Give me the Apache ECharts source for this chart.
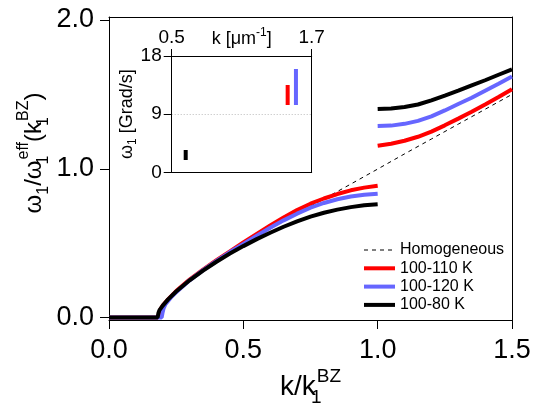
<!DOCTYPE html>
<html lang="en" style="height: 100%">
<head>
  <meta charset="utf-8">
</head>
<body style="height: 100%; margin: 0">
  <div id="container" style="width: 535px; height: 407px"></div>

  <script type="text/javascript" src="https://fastly.jsdelivr.net/npm/echarts@6.0.0/dist/echarts.min.js"></script>

  <script type="text/javascript">
    var FONT = 'Liberation Sans, Arial, sans-serif';

    // main plot: k/k1BZ vs omega1/omega1eff, two segments each (gap at k = 1)
    var homogeneous = [
      [0, 0], [0.18, 0], [0.19, 0.04], [0.2, 0.07], [0.22, 0.115], [0.25, 0.17],
      [0.3, 0.245], [0.35, 0.31], [0.4, 0.37], [0.45, 0.43], [0.5, 0.49],
      [0.6, 0.595], [0.7, 0.7], [0.8, 0.797], [0.9, 0.897], [1.0, 0.998],
      [1.1, 1.1], [1.2, 1.2], [1.3, 1.3], [1.4, 1.4], [1.5, 1.5]
    ];
    var red1 = [
      [0, 0], [0.183, 0], [0.186, 0.03], [0.19, 0.05], [0.2, 0.08], [0.22, 0.122], [0.25, 0.178],
      [0.3, 0.255], [0.35, 0.322], [0.4, 0.385], [0.45, 0.445], [0.5, 0.505],
      [0.55, 0.562], [0.6, 0.618], [0.65, 0.672], [0.7, 0.722], [0.75, 0.765],
      [0.8, 0.8], [0.85, 0.83], [0.9, 0.855], [0.95, 0.873], [1.0, 0.886]
    ];
    var red2 = [
      [1.0, 1.155], [1.05, 1.168], [1.1, 1.188], [1.15, 1.215], [1.2, 1.25],
      [1.25, 1.292], [1.3, 1.337], [1.35, 1.383], [1.4, 1.432], [1.45, 1.482], [1.5, 1.535]
    ];
    var blue1 = [
      [0, 0], [0.196, 0], [0.199, 0.03], [0.203, 0.06], [0.21, 0.09], [0.23, 0.133], [0.25, 0.17],
      [0.3, 0.25], [0.35, 0.318], [0.4, 0.38], [0.45, 0.44], [0.5, 0.495],
      [0.55, 0.55], [0.6, 0.603], [0.65, 0.653], [0.7, 0.698], [0.75, 0.738],
      [0.8, 0.77], [0.85, 0.795], [0.9, 0.813], [0.95, 0.825], [1.0, 0.832]
    ];
    var blue2 = [
      [1.0, 1.287], [1.05, 1.29], [1.1, 1.302], [1.15, 1.322], [1.2, 1.352],
      [1.25, 1.392], [1.3, 1.435], [1.35, 1.477], [1.4, 1.525], [1.45, 1.572], [1.5, 1.62]
    ];
    var black1 = [
      [0, 0], [0.181, 0], [0.184, 0.03], [0.188, 0.05], [0.2, 0.08], [0.22, 0.122], [0.25, 0.175],
      [0.3, 0.25], [0.35, 0.315], [0.4, 0.375], [0.45, 0.43], [0.5, 0.48],
      [0.55, 0.527], [0.6, 0.57], [0.65, 0.61], [0.7, 0.646], [0.75, 0.678],
      [0.8, 0.704], [0.85, 0.725], [0.9, 0.742], [0.95, 0.755], [1.0, 0.762]
    ];
    var black2 = [
      [1.0, 1.401], [1.05, 1.405], [1.1, 1.415], [1.15, 1.432], [1.2, 1.46],
      [1.25, 1.492], [1.3, 1.525], [1.35, 1.56], [1.4, 1.595], [1.45, 1.632], [1.5, 1.668]
    ];

    // inset: omega1 range [Grad/s] at k [um^-1]
    var insetRed = [[1.494, 10.4], [1.494, 13.5]];
    var insetBlue = [[1.565, 10.4], [1.565, 16.0]];
    var insetBlack = [[0.62, 1.9], [0.62, 3.45]];

    var mainTicks = [0, 1, 2];
    var insetXTicks = [0.5, 1.7];

    var names = ['Homogeneous', '100-110 K', '100-120 K', '100-80 K'];
    var colors = ['#000', '#ff0000', '#6666ff', '#000'];

    function joinSeg(a, b) {
      return a.concat([[1.0, '-']], b);
    }

    var dom = document.getElementById('container');
    var myChart = echarts.init(dom, null, { renderer: 'canvas' });

    var subSup = {
      s0: { fontSize: 16, lineHeight: 17, verticalAlign: 'bottom', width: 1, fontFamily: FONT, color: '#000' },
      s: { fontSize: 16, lineHeight: 17, verticalAlign: 'bottom', fontFamily: FONT, color: '#000' },
      p: { fontSize: 16, lineHeight: 17, verticalAlign: 'top', fontFamily: FONT, color: '#000' }
    };

    var lineBase = { type: 'line', symbol: 'none', smooth: false, silent: true, animation: false };

    var option = {
      backgroundColor: '#fff',
      animation: false,
      textStyle: { fontFamily: FONT },
      grid: [
        { left: 109, right: 23, top: 17, bottom: 87, outerBoundsMode: 'none' },
        { left: 171.7, right: 223.3, top: 56, bottom: 234.7, outerBoundsMode: 'none' }
      ],
      legend: {
        data: names,
        orient: 'vertical',
        left: 362,
        top: 242,
        padding: 0,
        itemWidth: 31,
        itemHeight: 14,
        itemGap: 2.3,
        lineStyle: { width: 'inherit' },
        itemStyle: { opacity: 0 },
        textStyle: { fontSize: 16, lineHeight: 16, color: '#000', fontFamily: FONT }
      },
      xAxis: [
        {
          gridIndex: 0, type: 'value', min: 0, max: 1.5, interval: 0.5,
          name: 'k/k{s0|1}{p|BZ}', nameLocation: 'middle', nameGap: 47, nameMoveOverlap: false,
          nameTextStyle: {
            rich: {
              s0: { fontSize: 19, lineHeight: 20, verticalAlign: 'bottom', width: 1, fontFamily: FONT, color: '#000' },
              p: { fontSize: 19, lineHeight: 20, verticalAlign: 'top', fontFamily: FONT, color: '#000' }
            },
            fontSize: 28, lineHeight: 40, color: '#000'
          },
          axisLine: { onZero: false, lineStyle: { color: '#000', width: 1 } },
          axisTick: { inside: false, length: 9, lineStyle: { color: '#000' } },
          axisLabel: {
            fontSize: 27, color: '#000', margin: 17, fontFamily: FONT,
            formatter: function (v) { return v.toFixed(1); }
          },
          splitLine: { show: false }
        },
        {
          gridIndex: 0, type: 'value', min: 0, max: 1.5, position: 'top',
          axisLine: { onZero: false, lineStyle: { color: '#000', width: 1 } },
          axisTick: { show: false }, axisLabel: { show: false }, splitLine: { show: false }
        },
        {
          gridIndex: 1, type: 'value', min: 0.5, max: 1.7, position: 'top',
          name: 'k [μm{p|-1}]', nameLocation: 'middle', nameGap: 5, nameMoveOverlap: false,
          nameTextStyle: {
            fontSize: 18, lineHeight: 24, color: '#000', fontFamily: FONT,
            rich: {
              p: { fontSize: 12, lineHeight: 13, verticalAlign: 'top', fontFamily: FONT, color: '#000' }
            }
          },
          axisLine: { onZero: false, lineStyle: { color: '#000', width: 1 } },
          axisTick: { inside: false, length: 7, customValues: insetXTicks, lineStyle: { color: '#000' } },
          axisLabel: {
            fontSize: 19, color: '#000', margin: 9, fontFamily: FONT, customValues: insetXTicks,
            formatter: function (v) { return v.toFixed(1); }
          },
          splitLine: { show: false }
        },
        {
          gridIndex: 1, type: 'value', min: 0.5, max: 1.7, position: 'bottom',
          axisLine: { onZero: false, lineStyle: { color: '#000', width: 1 } },
          axisTick: { show: false }, axisLabel: { show: false }, splitLine: { show: false }
        }
      ],
      yAxis: [
        {
          gridIndex: 0, type: 'value', min: -0.0168, max: 2.0202,
          axisLine: { onZero: false, lineStyle: { color: '#000', width: 1 } },
          axisTick: { inside: false, length: 9, customValues: mainTicks, lineStyle: { color: '#000' } },
          axisLabel: {
            fontSize: 27, color: '#000', margin: 15, fontFamily: FONT, customValues: mainTicks,
            formatter: function (v) { return v.toFixed(1); }
          },
          splitLine: { show: false }
        },
        {
          gridIndex: 0, type: 'value', min: -0.0168, max: 2.0202, position: 'right',
          axisLine: { onZero: false, lineStyle: { color: '#000', width: 1 } },
          axisTick: { show: false }, axisLabel: { show: false }, splitLine: { show: false }
        },
        {
          gridIndex: 1, type: 'value', min: 0, max: 18, interval: 9,
          name: 'ω{s|1} [Grad/s]', nameLocation: 'middle', nameGap: 33, nameMoveOverlap: false,
          nameTextStyle: {
            fontSize: 18, lineHeight: 24, color: '#000', fontFamily: FONT,
            rich: {
              s: { fontSize: 12, lineHeight: 13, verticalAlign: 'bottom', fontFamily: FONT, color: '#000' }
            }
          },
          axisLine: { onZero: false, lineStyle: { color: '#000', width: 1 } },
          axisTick: { inside: false, length: 8, lineStyle: { color: '#000' } },
          axisLabel: { fontSize: 19, color: '#000', margin: 10, fontFamily: FONT },
          splitLine: { show: true, lineStyle: { color: '#bbb', type: [1, 2], width: 1 } }
        },
        {
          gridIndex: 1, type: 'value', min: 0, max: 18, position: 'right',
          axisLine: { onZero: false, lineStyle: { color: '#000', width: 1 } },
          axisTick: { show: false }, axisLabel: { show: false }, splitLine: { show: false }
        }
      ],
      graphic: [
        {
          type: 'text', x: 34, y: 153, rotation: Math.PI / 2,
          style: {
            text: 'ω{s|1}/ω{s0|1}{p|eff}(k{s0|1}{p|BZ})',
            rich: subSup,
            fontSize: 24, lineHeight: 36, fill: '#000', fontFamily: FONT,
            align: 'center', verticalAlign: 'middle'
          }
        }
      ],
      series: [
        Object.assign({}, lineBase, {
          name: names[0], xAxisIndex: 0, yAxisIndex: 0, data: homogeneous,
          lineStyle: { color: colors[0], width: 1, type: [4, 4] }, itemStyle: { color: colors[0] }
        }),
        Object.assign({}, lineBase, {
          name: names[1], xAxisIndex: 0, yAxisIndex: 0, data: joinSeg(red1, red2),
          lineStyle: { color: colors[1], width: 4 }, itemStyle: { color: colors[1] }
        }),
        Object.assign({}, lineBase, {
          name: names[2], xAxisIndex: 0, yAxisIndex: 0, data: joinSeg(blue1, blue2),
          lineStyle: { color: colors[2], width: 4 }, itemStyle: { color: colors[2] }
        }),
        Object.assign({}, lineBase, {
          name: names[3], xAxisIndex: 0, yAxisIndex: 0, data: joinSeg(black1, black2),
          lineStyle: { color: colors[3], width: 4 }, itemStyle: { color: colors[3] }
        }),
        Object.assign({}, lineBase, {
          name: 'inset red', xAxisIndex: 2, yAxisIndex: 2, data: insetRed,
          lineStyle: { color: colors[1], width: 4 }
        }),
        Object.assign({}, lineBase, {
          name: 'inset blue', xAxisIndex: 2, yAxisIndex: 2, data: insetBlue,
          lineStyle: { color: colors[2], width: 4 }
        }),
        Object.assign({}, lineBase, {
          name: 'inset black', xAxisIndex: 2, yAxisIndex: 2, data: insetBlack,
          lineStyle: { color: colors[3], width: 4 }
        })
      ]
    };

    myChart.setOption(option);

    window.addEventListener('resize', myChart.resize);
  </script>
</body>
</html>
